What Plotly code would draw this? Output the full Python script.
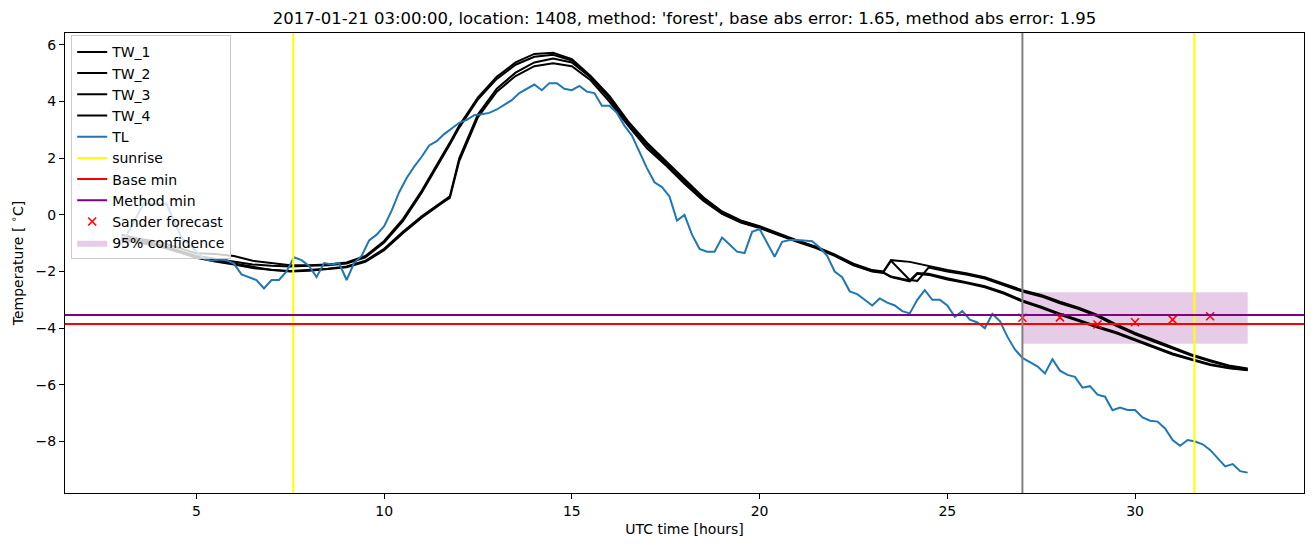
import plotly.graph_objects as go

# TL sampled every 0.2 h from 3.0 h
TL_START = 3.0
TL_STEP = 0.2
TL = [-1.07, -0.55, -0.08, 0.40, 0.37, 0.36, 0.40, -0.20, -0.80, -1.05,
      -1.30, -1.55, -1.62, -1.58, -1.60, -1.72, -2.10, -2.20, -2.30, -2.60,
      -2.30, -2.30, -2.00, -1.50, -1.60, -1.80, -2.20, -1.70, -1.75, -1.70,
      -2.30, -1.70, -1.45, -0.90, -0.70, -0.40, 0.15, 0.80, 1.30, 1.70,
      2.05, 2.45, 2.60, 2.85, 3.05, 3.25, 3.35, 3.52, 3.55, 3.60,
      3.72, 3.90, 4.05, 4.30, 4.45, 4.60, 4.40, 4.65, 4.65, 4.45,
      4.40, 4.55, 4.35, 4.30, 3.85, 3.85, 3.60, 3.15, 2.80, 2.20,
      1.65, 1.15, 0.98, 0.65, -0.20, 0.00, -0.70, -1.20, -1.30, -1.30,
      -0.80, -1.05, -1.30, -1.35, -0.60, -0.50, -1.00, -1.48, -0.95, -0.89,
      -0.89, -0.90, -0.93, -1.15, -1.45, -2.00, -2.20, -2.70, -2.80, -3.00,
      -3.20, -2.95, -3.10, -3.20, -3.40, -3.48, -3.00, -2.66, -3.00, -3.00,
      -3.20, -3.60, -3.40, -3.70, -3.80, -4.00, -3.50, -3.75, -4.30, -4.75,
      -5.05, -5.20, -5.35, -5.60, -5.10, -5.50, -5.65, -5.72, -6.10, -6.05,
      -6.35, -6.42, -6.90, -6.80, -6.89, -6.89, -7.15, -7.27, -7.30, -7.54,
      -7.95, -8.15, -7.95, -8.00, -8.10, -8.30, -8.60, -8.88, -8.80, -9.05,
      -9.10]
TL_HOURS = [round(TL_START + TL_STEP * i, 2) for i in range(len(TL))]

TW_HOURS = [3.0, 3.5, 4.0, 4.5, 5.0, 5.5, 6.0, 6.5, 7.0, 7.5, 8.0, 8.5, 9.0, 9.5,
            10.0, 10.5, 11.0, 11.5, 11.75, 12.0, 12.5, 13.0, 13.5, 14.0, 14.5,
            15.0, 15.5, 16.0, 16.5, 17.0, 17.5, 18.0, 18.5, 19.0, 19.5, 20.0,
            20.5, 21.0, 21.5, 22.0, 22.5, 23.0, 23.3, 23.5, 24.0, 24.2, 24.5,
            25.0, 25.5, 26.0, 26.5, 27.0, 27.5, 28.0, 28.5, 29.0, 29.5, 30.0,
            30.5, 31.0, 31.5, 32.0, 32.5, 33.0]
TW_1 = [-0.70, -0.85, -0.95, -1.15, -1.36, -1.38, -1.45, -1.62, -1.70, -1.78, -1.78, -1.75, -1.68, -1.45,
        -0.92, -0.15, 0.85, 1.95, 2.55, 3.15, 4.15, 4.88, 5.38, 5.68, 5.72,
        5.50, 4.90, 4.20, 3.30, 2.55, 1.90, 1.25, 0.62, 0.12, -0.20, -0.40,
        -0.65, -0.90, -1.12, -1.40, -1.72, -1.95, -2.00, -1.60, -1.66, -1.72, -1.80,
        -1.95, -2.06, -2.20, -2.43, -2.66, -2.83, -3.07, -3.28, -3.53, -3.87, -4.17,
        -4.42, -4.68, -4.93, -5.13, -5.32, -5.42]
TW_2 = [-0.80, -0.90, -1.05, -1.25, -1.45, -1.55, -1.65, -1.75, -1.80, -1.82, -1.80, -1.78, -1.72, -1.50,
        -0.98, -0.22, 0.78, 1.88, 2.48, 3.08, 4.08, 4.80, 5.30, 5.58, 5.65,
        5.45, 4.85, 4.10, 3.20, 2.45, 1.80, 1.15, 0.55, 0.05, -0.25, -0.45,
        -0.70, -0.93, -1.15, -1.43, -1.76, -1.98, -2.02, -1.62, -2.30, -2.33, -1.86,
        -2.00, -2.11, -2.25, -2.48, -2.71, -2.88, -3.12, -3.33, -3.58, -3.92, -4.22,
        -4.47, -4.72, -4.97, -5.17, -5.35, -5.45]
TW_3 = [-0.85, -0.95, -1.10, -1.30, -1.50, -1.60, -1.72, -1.85, -1.95, -1.98, -1.95, -1.90, -1.82, -1.62,
        -1.20, -0.60, -0.05, 0.42, 0.65, 2.00, 3.55, 4.45, 5.02, 5.38, 5.52,
        5.38, 4.85, 4.15, 3.25, 2.50, 1.85, 1.20, 0.60, 0.10, -0.22, -0.42,
        -0.68, -0.92, -1.14, -1.42, -1.75, -1.97, -2.03, -2.18, -2.32, -2.05, -2.08,
        -2.24, -2.37, -2.52, -2.74, -3.02, -3.24, -3.49, -3.71, -3.94, -4.14, -4.39,
        -4.66, -4.89, -5.09, -5.27, -5.40, -5.47]
TW_4 = [-0.90, -1.00, -1.10, -1.30, -1.52, -1.65, -1.75, -1.88, -1.95, -2.00, -1.97, -1.92, -1.85, -1.66,
        -1.25, -0.65, -0.10, 0.38, 0.60, 1.90, 3.45, 4.35, 4.90, 5.25, 5.35,
        5.25, 4.75, 4.00, 3.15, 2.35, 1.75, 1.10, 0.50, 0.03, -0.27, -0.47,
        -0.72, -0.95, -1.17, -1.45, -1.78, -2.00, -2.05, -2.20, -2.35, -2.08, -2.12,
        -2.28, -2.41, -2.56, -2.78, -3.06, -3.28, -3.53, -3.75, -3.98, -4.18, -4.43,
        -4.70, -4.93, -5.12, -5.30, -5.42, -5.49]

FORECAST_HOURS = [27, 28, 29, 30, 31, 32]
FORECAST = [-3.63, -3.62, -3.87, -3.79, -3.70, -3.58]
CONF_HOURS = [27, 33]
CONF_LO, CONF_HI = -4.55, -2.73
SUNRISE = [7.58, 31.58]
FORECAST_TIME = 27
BASE_MIN = -3.85
METHOD_MIN = -3.54

FONT = "DejaVu Sans"

fig = go.Figure()

# confidence band (drawn first, listed last)
fig.add_trace(go.Scatter(
    x=[CONF_HOURS[0], CONF_HOURS[1], CONF_HOURS[1], CONF_HOURS[0], CONF_HOURS[0]],
    y=[CONF_HI, CONF_HI, CONF_LO, CONF_LO, CONF_HI],
    mode='lines', fill='toself', fillcolor='rgba(128,0,128,0.2)',
    line=dict(width=0), name='95% confidence', legendrank=10
))

for i, tw in enumerate([TW_1, TW_2, TW_3, TW_4]):
    fig.add_trace(go.Scatter(
        x=TW_HOURS, y=tw, mode='lines', name=f'TW_{i + 1}',
        line=dict(color='black', width=2), legendrank=i + 1
    ))

fig.add_trace(go.Scatter(
    x=TL_HOURS, y=TL, mode='lines', name='TL',
    line=dict(color='#1f77b4', width=2), legendrank=5
))

fig.add_trace(go.Scatter(
    x=FORECAST_HOURS, y=FORECAST, mode='markers', name='Sander forecast',
    marker=dict(symbol='x-thin', size=8, line=dict(color='red', width=1.5)),
    legendrank=9
))

shapes = []
for j, s in enumerate(SUNRISE):
    shapes.append(dict(type='line', xref='x', yref='y domain', x0=s, x1=s, y0=0, y1=1,
                       line=dict(color='#ffff00', width=2), layer='above',
                       name='sunrise', showlegend=(j == 0), legendrank=6))
shapes.append(dict(type='line', xref='x domain', yref='y', x0=0, x1=1, y0=BASE_MIN, y1=BASE_MIN,
                   line=dict(color='red', width=2), layer='above',
                   name='Base min', showlegend=True, legendrank=7))
shapes.append(dict(type='line', xref='x domain', yref='y', x0=0, x1=1, y0=METHOD_MIN, y1=METHOD_MIN,
                   line=dict(color='purple', width=2), layer='above',
                   name='Method min', showlegend=True, legendrank=8))
shapes.append(dict(type='line', xref='x', yref='y domain', x0=FORECAST_TIME, x1=FORECAST_TIME,
                   y0=0, y1=1, line=dict(color='gray', width=2), layer='above', showlegend=False))

# page body has an 8px margin, so the figure is 8px smaller than the window
W, H = 1305, 539
fig.update_layout(
    width=W, height=H,
    margin=dict(l=57, r=9, t=25, b=54, autoexpand=False),
    paper_bgcolor='white', plot_bgcolor='white',
    font=dict(family=FONT, size=14, color='black'),
    title=dict(text="2017-01-21 03:00:00, location: 1408, method: 'forest', base abs error: 1.65, method abs error: 1.95",
               x=0.5, xref='paper', y=1 - 10 / H, yref='container', yanchor='middle',
               font=dict(size=16.5), automargin=False),
    shapes=shapes,
    showlegend=True,
    legend=dict(x=0.005, y=0.995, xanchor='left', yanchor='top',
                bgcolor='rgba(255,255,255,0.8)', bordercolor='#cccccc', borderwidth=1,
                font=dict(size=14), traceorder='normal'),
)

fig.update_xaxes(range=[1.5, 34.5], tickvals=[5, 10, 15, 20, 25, 30], automargin=False,
                 showline=True, mirror=True, linecolor='black', linewidth=1,
                 ticks='outside', ticklen=5, tickcolor='black', showgrid=False, zeroline=False,
                 tickfont=dict(size=14),
                 title=dict(text='UTC time [hours]', font=dict(size=14), standoff=6))
fig.update_yaxes(range=[-9.82, 6.42], tickvals=[-8, -6, -4, -2, 0, 2, 4, 6], automargin=False,
                 showline=True, mirror=True, linecolor='black', linewidth=1,
                 ticks='outside', ticklen=5, tickcolor='black', showgrid=False, zeroline=False,
                 tickfont=dict(size=14),
                 title=dict(text='Temperature [ <sup>∘</sup>C]', font=dict(size=14), standoff=8))

fig.write_html("out.html")
